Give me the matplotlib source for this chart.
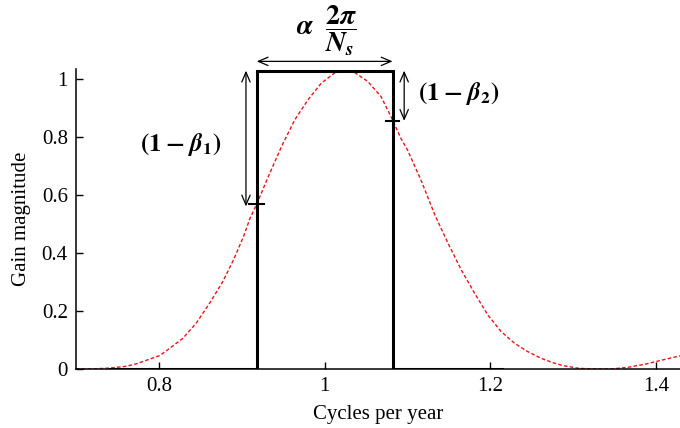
import numpy as np
import matplotlib
matplotlib.use("Agg")
import matplotlib.pyplot as plt

plt.rcParams['font.family'] = ['Liberation Serif', 'DejaVu Serif']
plt.rcParams['mathtext.fontset'] = 'stix'

# ideal band-pass (black) and the smooth filter response (red, dashed)
ideal_freq = [0.741, 0.918, 0.918, 1.082, 1.082, 1.214]
ideal_gain = [0.0, 0.0, 1.028, 1.028, 0.0, 0.0]

filt_freq = [0.700, 0.720, 0.740, 0.760, 0.772, 0.789, 0.801, 0.813, 0.829,
             0.845, 0.861, 0.877, 0.890, 0.902, 0.910, 0.918, 0.932, 0.948,
             0.964, 0.980, 0.996, 1.012, 1.024, 1.036, 1.052, 1.068, 1.080,
             1.092, 1.100, 1.117, 1.133, 1.149, 1.165, 1.181, 1.197, 1.213,
             1.229, 1.245, 1.261, 1.275, 1.287, 1.307, 1.327, 1.347, 1.367,
             1.388, 1.408, 1.429]
filt_gain = [0.000, 0.000, 0.003, 0.009, 0.017, 0.034, 0.046, 0.071, 0.106,
             0.158, 0.226, 0.301, 0.376, 0.456, 0.520, 0.568, 0.663, 0.767,
             0.859, 0.928, 0.985, 1.020, 1.028, 1.022, 0.991, 0.939, 0.870,
             0.795, 0.755, 0.646, 0.531, 0.433, 0.341, 0.261, 0.186, 0.129,
             0.089, 0.060, 0.037, 0.022, 0.012, 0.002, 0.000, 0.000, 0.006,
             0.017, 0.031, 0.045]

band_lo, band_hi = 0.918, 1.082
gain_top = 1.028
beta1_level = 0.570
beta2_level = 0.855

xticks = [0.8, 1.0, 1.2, 1.4]
xtick_labels = ["0.8", "1", "1.2", "1.4"]
yticks = [0, 0.2, 0.4, 0.6, 0.8, 1.0]
ytick_labels = ["0", "0.2", "0.4", "0.6", "0.8", "1"]

fig = plt.figure(figsize=(6.8, 4.28), dpi=100)
ax = fig.add_axes([0.112, 0.138, 0.888, 0.701])

ax.plot(filt_freq, filt_gain, color='#e8141c', lw=1.0, ls=(0, (2.6, 1.6)), zorder=2)
ax.plot(ideal_freq, ideal_gain, color='black', lw=2.2, zorder=3,
        solid_joinstyle='miter')

# small level markers where the filter crosses the band edges
ax.plot([band_lo - 0.009, band_lo + 0.009], [beta1_level, beta1_level], color='black', lw=1.5)
ax.plot([band_hi - 0.008, band_hi + 0.008], [beta2_level, beta2_level], color='black', lw=1.5)

arrow = dict(arrowstyle='<->,head_length=0.7,head_width=0.3', lw=0.9, color='black',
             shrinkA=0, shrinkB=0)
ax.annotate('', xy=(band_lo, 1.06), xytext=(band_hi, 1.06), arrowprops=arrow,
            annotation_clip=False)
ax.annotate('', xy=(0.905, gain_top), xytext=(0.905, beta1_level - 0.01), arrowprops=arrow)
ax.annotate('', xy=(1.096, gain_top), xytext=(1.096, beta2_level), arrowprops=arrow)

ax.text(1.002, 1.072, r'$\mathbfit{\alpha}\ \ \dfrac{\mathbf{2}\mathbfit{\pi}}{\mathbfit{N_s}}$',
        fontsize=20, ha='center', va='bottom', clip_on=False)
ax.text(0.826, 0.775, r'$\mathbf{(1}\;\mathbf{-}\;\mathbfit{\beta}_{\mathbf{1}}\mathbf{)}$',
        fontsize=18, ha='center', va='center')
ax.text(1.162, 0.95, r'$\mathbf{(1}\;\mathbf{-}\;\mathbfit{\beta}_{\mathbf{2}}\mathbf{)}$',
        fontsize=18, ha='center', va='center')

ax.set_xlim(0.7, 1.429)
ax.set_ylim(0, 1.034)
ax.set_xticks(xticks, xtick_labels)
ax.set_yticks(yticks, ytick_labels)
ax.tick_params(direction='in', length=5, width=1, labelsize=15, pad=6)
ax.spines['top'].set_visible(False)
ax.spines['right'].set_visible(False)
for s in ('left', 'bottom'):
    ax.spines[s].set_linewidth(1.1)

ax.set_xlabel('Cycles per year', fontsize=15, labelpad=6)
ax.set_ylabel('Gain magnitude', fontsize=15, labelpad=8)

fig.savefig('out.png', dpi=100)
